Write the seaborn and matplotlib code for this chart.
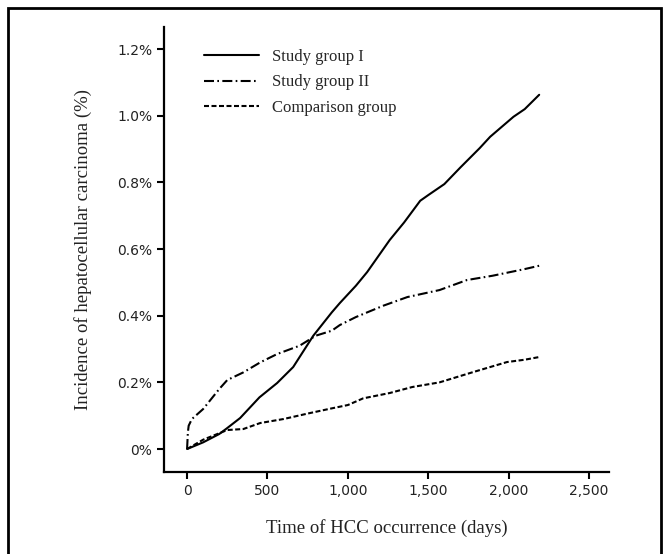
import pandas as pd
import numpy as np
import matplotlib
matplotlib.use('Agg')
import matplotlib.pyplot as plt
from matplotlib.ticker import FuncFormatter
from matplotlib.patches import Rectangle
import seaborn as sns

# Cumulative incidence of HCC (%)
days_g1 = [0, 100, 200, 250, 330, 450, 560, 660, 785, 900, 950, 1050, 1120, 1260, 1350,
           1450, 1500, 1600, 1700, 1820, 1885, 2030, 2100, 2190]
inc_g1 = [0, 0.02, 0.045, 0.063, 0.093, 0.155, 0.198, 0.246, 0.34, 0.41, 0.438, 0.49, 0.531,
          0.627, 0.68, 0.745, 0.762, 0.795, 0.845, 0.903, 0.937, 0.997, 1.02, 1.063]

days_g2 = [0, 5, 10, 30, 100, 200, 250, 350, 455, 560, 700, 800, 900, 950, 1050, 1220,
           1370, 1570, 1740, 1900, 2000, 2100, 2190]
inc_g2 = [0, 0.05, 0.07, 0.09, 0.12, 0.18, 0.207, 0.23, 0.26, 0.285, 0.31, 0.34, 0.355,
          0.372, 0.396, 0.43, 0.456, 0.477, 0.507, 0.52, 0.53, 0.54, 0.55]

days_cmp = [0, 100, 250, 350, 455, 600, 765, 900, 1000, 1095, 1260, 1400, 1570, 1780,
            1990, 2100, 2190]
inc_cmp = [0, 0.028, 0.057, 0.06, 0.078, 0.09, 0.108, 0.122, 0.132, 0.152, 0.168, 0.186,
           0.2, 0.231, 0.261, 0.268, 0.276]

groups = ['Study group I', 'Study group II', 'Comparison group']

# long format for seaborn
df = pd.concat([
    pd.DataFrame({'day': days_g1, 'inc': inc_g1, 'group': groups[0]}),
    pd.DataFrame({'day': days_g2, 'inc': inc_g2, 'group': groups[1]}),
    pd.DataFrame({'day': days_cmp, 'inc': inc_cmp, 'group': groups[2]}),
], ignore_index=True)

sns.set_style('white')
serif = ['Liberation Serif', 'DejaVu Serif']

fig = plt.figure(figsize=(6.67, 5.54), dpi=100)
ax = fig.add_axes([0.246, 0.148, 0.667, 0.803])

dash_styles = {groups[0]: '', groups[1]: (4.8, 1.6, 0.8, 1.6), groups[2]: (2.4, 1.2)}
sns.lineplot(data=df, x='day', y='inc', style='group', style_order=groups, dashes=dash_styles,
             color='black', linewidth=1.5, estimator=None, sort=False, ax=ax)

ax.set_xlim(-143, 2624)
ax.set_ylim(-0.069, 1.266)
ax.set_xticks([0, 500, 1000, 1500, 2000, 2500])
ax.set_yticks([0, 0.2, 0.4, 0.6, 0.8, 1.0, 1.2])
ax.xaxis.set_major_formatter(FuncFormatter(lambda v, p: f'{v:,.0f}'))
ax.yaxis.set_major_formatter(FuncFormatter(lambda v, p: '0%' if abs(v) < 1e-9 else f'{v:.1f}%'))
ax.tick_params(axis='both', direction='out', length=5, width=1.5, color='black',
               labelsize=10, labelcolor='#222222', left=True, bottom=True)
sns.despine(ax=ax)
for side in ['left', 'bottom']:
    ax.spines[side].set_linewidth(1.6)
    ax.spines[side].set_color('black')

ax.set_xlabel('Time of HCC occurrence (days)', family=serif, fontsize=13.5, color='#222222', labelpad=15)
ax.set_ylabel('Incidence of hepatocellular carcinoma (%)', family=serif, fontsize=13.5, color='#222222', labelpad=18)

handles, labels = ax.get_legend_handles_labels()
ax.legend(handles, labels, loc='upper left', bbox_to_anchor=(0.055, 0.984), frameon=False,
          prop={'family': serif, 'size': 12}, handlelength=3.3, handletextpad=0.8, labelspacing=0.55)

# black border around the whole picture
fig.add_artist(Rectangle((0.012, -0.02), 0.979, 1.006, transform=fig.transFigure,
                         fill=False, edgecolor='black', linewidth=2))

fig.savefig('out.png', dpi=100)
